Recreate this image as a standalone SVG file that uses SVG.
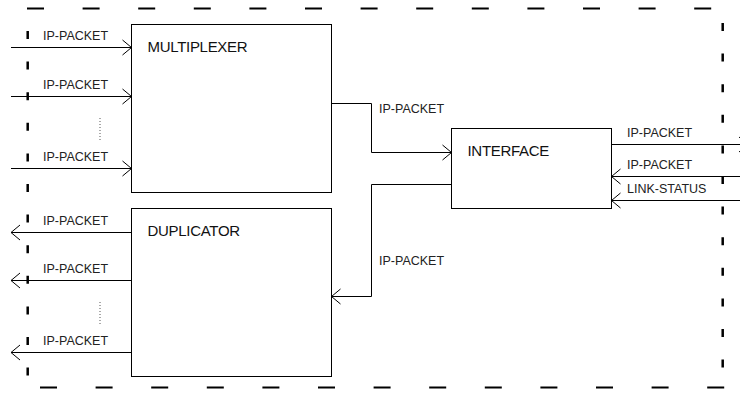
<svg xmlns="http://www.w3.org/2000/svg" width="740" height="394" viewBox="0 0 740 394">
<style>
.box{fill:#fff;stroke:#000;stroke-width:1}
.ln{fill:none;stroke:#000;stroke-width:1}
.lbl{font-family:"Liberation Sans",Arial,sans-serif;font-size:12.5px;fill:#222}
.ttl{font-family:"Liberation Sans",Arial,sans-serif;font-size:15px;letter-spacing:-0.3px;fill:#111}
.dot{stroke:#555;stroke-width:1;stroke-dasharray:1 2}
.bh{stroke:#000;stroke-width:2;stroke-dasharray:17 38.6;fill:none}
.bv{stroke:#000;stroke-width:2.5;stroke-dasharray:8 22.6;fill:none}
</style>
<defs>
<marker id="arr" markerUnits="userSpaceOnUse" markerWidth="12" markerHeight="18" viewBox="-10 -8 12 16" refX="0" refY="0" orient="auto">
<path d="M-9,-7.5 L0,0 L-9,7.5" fill="none" stroke="#000" stroke-width="1"/>
</marker>
</defs>
<g id="boundary">
<line class="bh" x1="27" y1="8.5" x2="720" y2="8.5"/>
<line class="bh" x1="40" y1="387.5" x2="730" y2="387.5"/>
<line class="bv" x1="27.7" y1="31" x2="27.7" y2="380"/>
<line class="bv" x1="722.7" y1="23" x2="722.7" y2="375"/>
</g>
<g id="connectors">
<line class="ln" x1="11" y1="47.5" x2="131.5" y2="47.5" marker-end="url(#arr)"/>
<line class="ln" x1="11" y1="96.5" x2="131.5" y2="96.5" marker-end="url(#arr)"/>
<line class="ln" x1="11" y1="168.5" x2="131.5" y2="168.5" marker-end="url(#arr)"/>
<line class="dot" x1="100" y1="118" x2="100" y2="141"/>
<line class="ln" x1="131.5" y1="232.5" x2="11" y2="232.5" marker-end="url(#arr)"/>
<line class="ln" x1="131.5" y1="280.5" x2="11" y2="280.5" marker-end="url(#arr)"/>
<line class="ln" x1="131.5" y1="352.5" x2="11" y2="352.5" marker-end="url(#arr)"/>
<line class="dot" x1="100" y1="302" x2="100" y2="325"/>
<path class="ln" d="M331.5,103.5 H371.5 V152.5 H451.5" marker-end="url(#arr)"/>
<path class="ln" d="M451.5,184.5 H371.5 V296.5 H331.5" marker-end="url(#arr)"/>
<line class="ln" x1="611.5" y1="144.5" x2="748" y2="144.5" marker-end="url(#arr)"/>
<line class="ln" x1="750" y1="176.5" x2="611.5" y2="176.5" marker-end="url(#arr)"/>
<line class="ln" x1="750" y1="200.5" x2="611.5" y2="200.5" marker-end="url(#arr)"/>
<text class="lbl" x="43" y="40">IP-PACKET</text>
<text class="lbl" x="43" y="88.5">IP-PACKET</text>
<text class="lbl" x="43" y="160.5">IP-PACKET</text>
<text class="lbl" x="43" y="224.5">IP-PACKET</text>
<text class="lbl" x="43" y="272.5">IP-PACKET</text>
<text class="lbl" x="43" y="344.5">IP-PACKET</text>
<text class="lbl" x="379" y="112.5">IP-PACKET</text>
<text class="lbl" x="379" y="265">IP-PACKET</text>
<text class="lbl" x="627" y="136.5">IP-PACKET</text>
<text class="lbl" x="627" y="168.5">IP-PACKET</text>
<text class="lbl" x="627" y="192.5">LINK-STATUS</text>
</g>
<g id="multiplexer">
<rect class="box" x="131.5" y="24.5" width="200" height="168"/>
<text class="ttl" x="147.5" y="52">MULTIPLEXER</text>
</g>
<g id="duplicator">
<rect class="box" x="131.5" y="208.5" width="200" height="168"/>
<text class="ttl" x="147.5" y="235.5">DUPLICATOR</text>
</g>
<g id="interface">
<rect class="box" x="451.5" y="128.5" width="160" height="80"/>
<text class="ttl" x="467.5" y="156">INTERFACE</text>
</g>
</svg>
